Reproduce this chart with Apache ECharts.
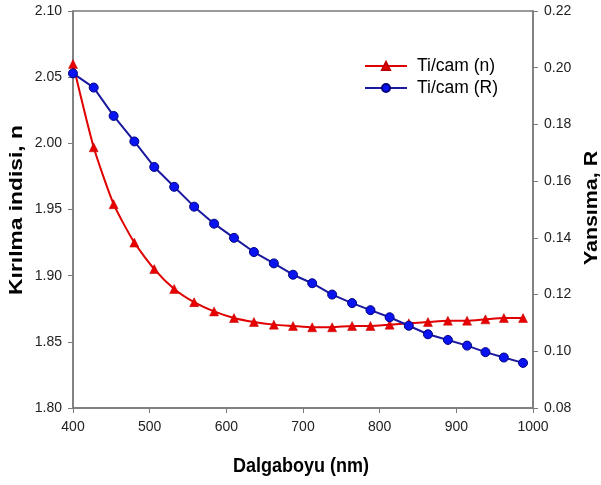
<!DOCTYPE html>
<html>
<head>
<meta charset="utf-8">
<script src="https://cdn.jsdelivr.net/npm/echarts@6/dist/echarts.min.js"></script>
<style>
  html, body { margin: 0; padding: 0; background: #fff; }
  #chart { width: 601px; height: 485px; }
</style>
</head>
<body>
<div id="chart"></div>
<script>
// dalgaboyu (nm)
var wavelength = [400, 427, 453, 480, 506, 532, 558, 584, 610, 636, 662, 687,
                  712, 738, 764, 788, 813, 838, 863, 889, 914, 938, 962, 987];
// kirilma indisi n (sol eksen)
var nValues = [2.060, 1.997, 1.954, 1.925, 1.905, 1.890, 1.880, 1.873, 1.868, 1.865, 1.863, 1.862,
               1.861, 1.861, 1.862, 1.862, 1.863, 1.864, 1.865, 1.866, 1.866, 1.867, 1.868, 1.868];
// yansima R (sag eksen)
var rValues = [0.198, 0.193, 0.183, 0.174, 0.165, 0.158, 0.151, 0.145, 0.140, 0.135, 0.131, 0.127,
               0.124, 0.120, 0.117, 0.1145, 0.112, 0.109, 0.106, 0.104, 0.102, 0.0997, 0.0978, 0.0959];
var seriesNames = ['Ti/cam (n)', 'Ti/cam (R)'];

function pairs(xs, ys) {
    var out = [];
    for (var i = 0; i < xs.length; i++) out.push([xs[i], ys[i]]);
    return out;
}

var chart = echarts.init(document.getElementById('chart'));
var axisColor = '#7a7a7a';
var labelStyle = { color: '#222', fontSize: 14, fontFamily: 'Liberation Sans' };

// eksen basliklari (resim biraz yatay sikistirilmis, o yuzden olcekli)
function titleText(txt, x, y, rot, sx, sy) {
    return {
        type: 'text', x: x, y: y, rotation: rot, scaleX: sx, scaleY: sy,
        style: {
            text: txt, fill: '#000',
            fontSize: 20, fontWeight: 'bold', fontFamily: 'Liberation Sans',
            align: 'center', verticalAlign: 'middle',
            textAlign: 'center', textVerticalAlign: 'middle'
        }
    };
}

var option = {
    backgroundColor: '#fff',
    animation: false,
    grid: {
        left: 73, right: 68, top: 11, bottom: 77,
        show: true, borderColor: axisColor, borderWidth: 1.5
    },
    graphic: [
        titleText('Dalgaboyu (nm)', 301, 466, 0, 0.9, 1.0),
        titleText('Kırılma indisi, n', 17, 210, Math.PI / 2, 1.14, 0.95),
        titleText('Yansıma, R', 592, 208, Math.PI / 2, 1.07, 0.95)
    ],
    legend: {
        orient: 'vertical',
        left: 359, top: 52,
        itemWidth: 42, itemHeight: 10, itemGap: 4,
        textStyle: { color: '#000', fontSize: 17.5, fontFamily: 'Liberation Sans', padding: [0, 0, 0, 5] },
        data: seriesNames
    },
    xAxis: {
        type: 'value',
        min: 400, max: 1000, interval: 100,
        axisLine: { show: true, lineStyle: { color: axisColor, width: 1.5 } },
        axisTick: { show: true, inside: false, length: 5, lineStyle: { color: axisColor } },
        axisLabel: Object.assign({ margin: 12, formatter: function (v) { return String(v); } }, labelStyle),
        splitLine: { show: false }
    },
    yAxis: [{
        type: 'value',
        position: 'left',
        min: 1.80, max: 2.10, interval: 0.05,
        axisLine: { show: true, lineStyle: { color: axisColor, width: 1.5 } },
        axisTick: { show: true, inside: false, length: 5, lineStyle: { color: axisColor } },
        axisLabel: Object.assign({ margin: 11, formatter: function (v) { return v.toFixed(2); } }, labelStyle),
        splitLine: { show: false }
    }, {
        type: 'value',
        position: 'right',
        min: 0.08, max: 0.22, interval: 0.02,
        axisLine: { show: true, lineStyle: { color: axisColor, width: 1.5 } },
        axisTick: { show: true, inside: false, length: 5, lineStyle: { color: axisColor } },
        axisLabel: Object.assign({ margin: 11, formatter: function (v) { return v.toFixed(2); } }, labelStyle),
        splitLine: { show: false }
    }],
    series: [{
        name: seriesNames[0],
        type: 'line',
        yAxisIndex: 0,
        data: pairs(wavelength, nValues),
        smooth: 0.2,
        symbol: 'triangle',
        symbolSize: 9,
        lineStyle: { color: '#e00000', width: 2 },
        itemStyle: { color: '#e80000', borderColor: '#c00000', borderWidth: 0.5 }
    }, {
        name: seriesNames[1],
        type: 'line',
        yAxisIndex: 1,
        data: pairs(wavelength, rValues),
        symbol: 'circle',
        symbolSize: 9,
        lineStyle: { color: '#1a1aa0', width: 2 },
        itemStyle: { color: '#0a14f0', borderColor: '#000080', borderWidth: 1 }
    }]
};

chart.setOption(option);
</script>
</body>
</html>
